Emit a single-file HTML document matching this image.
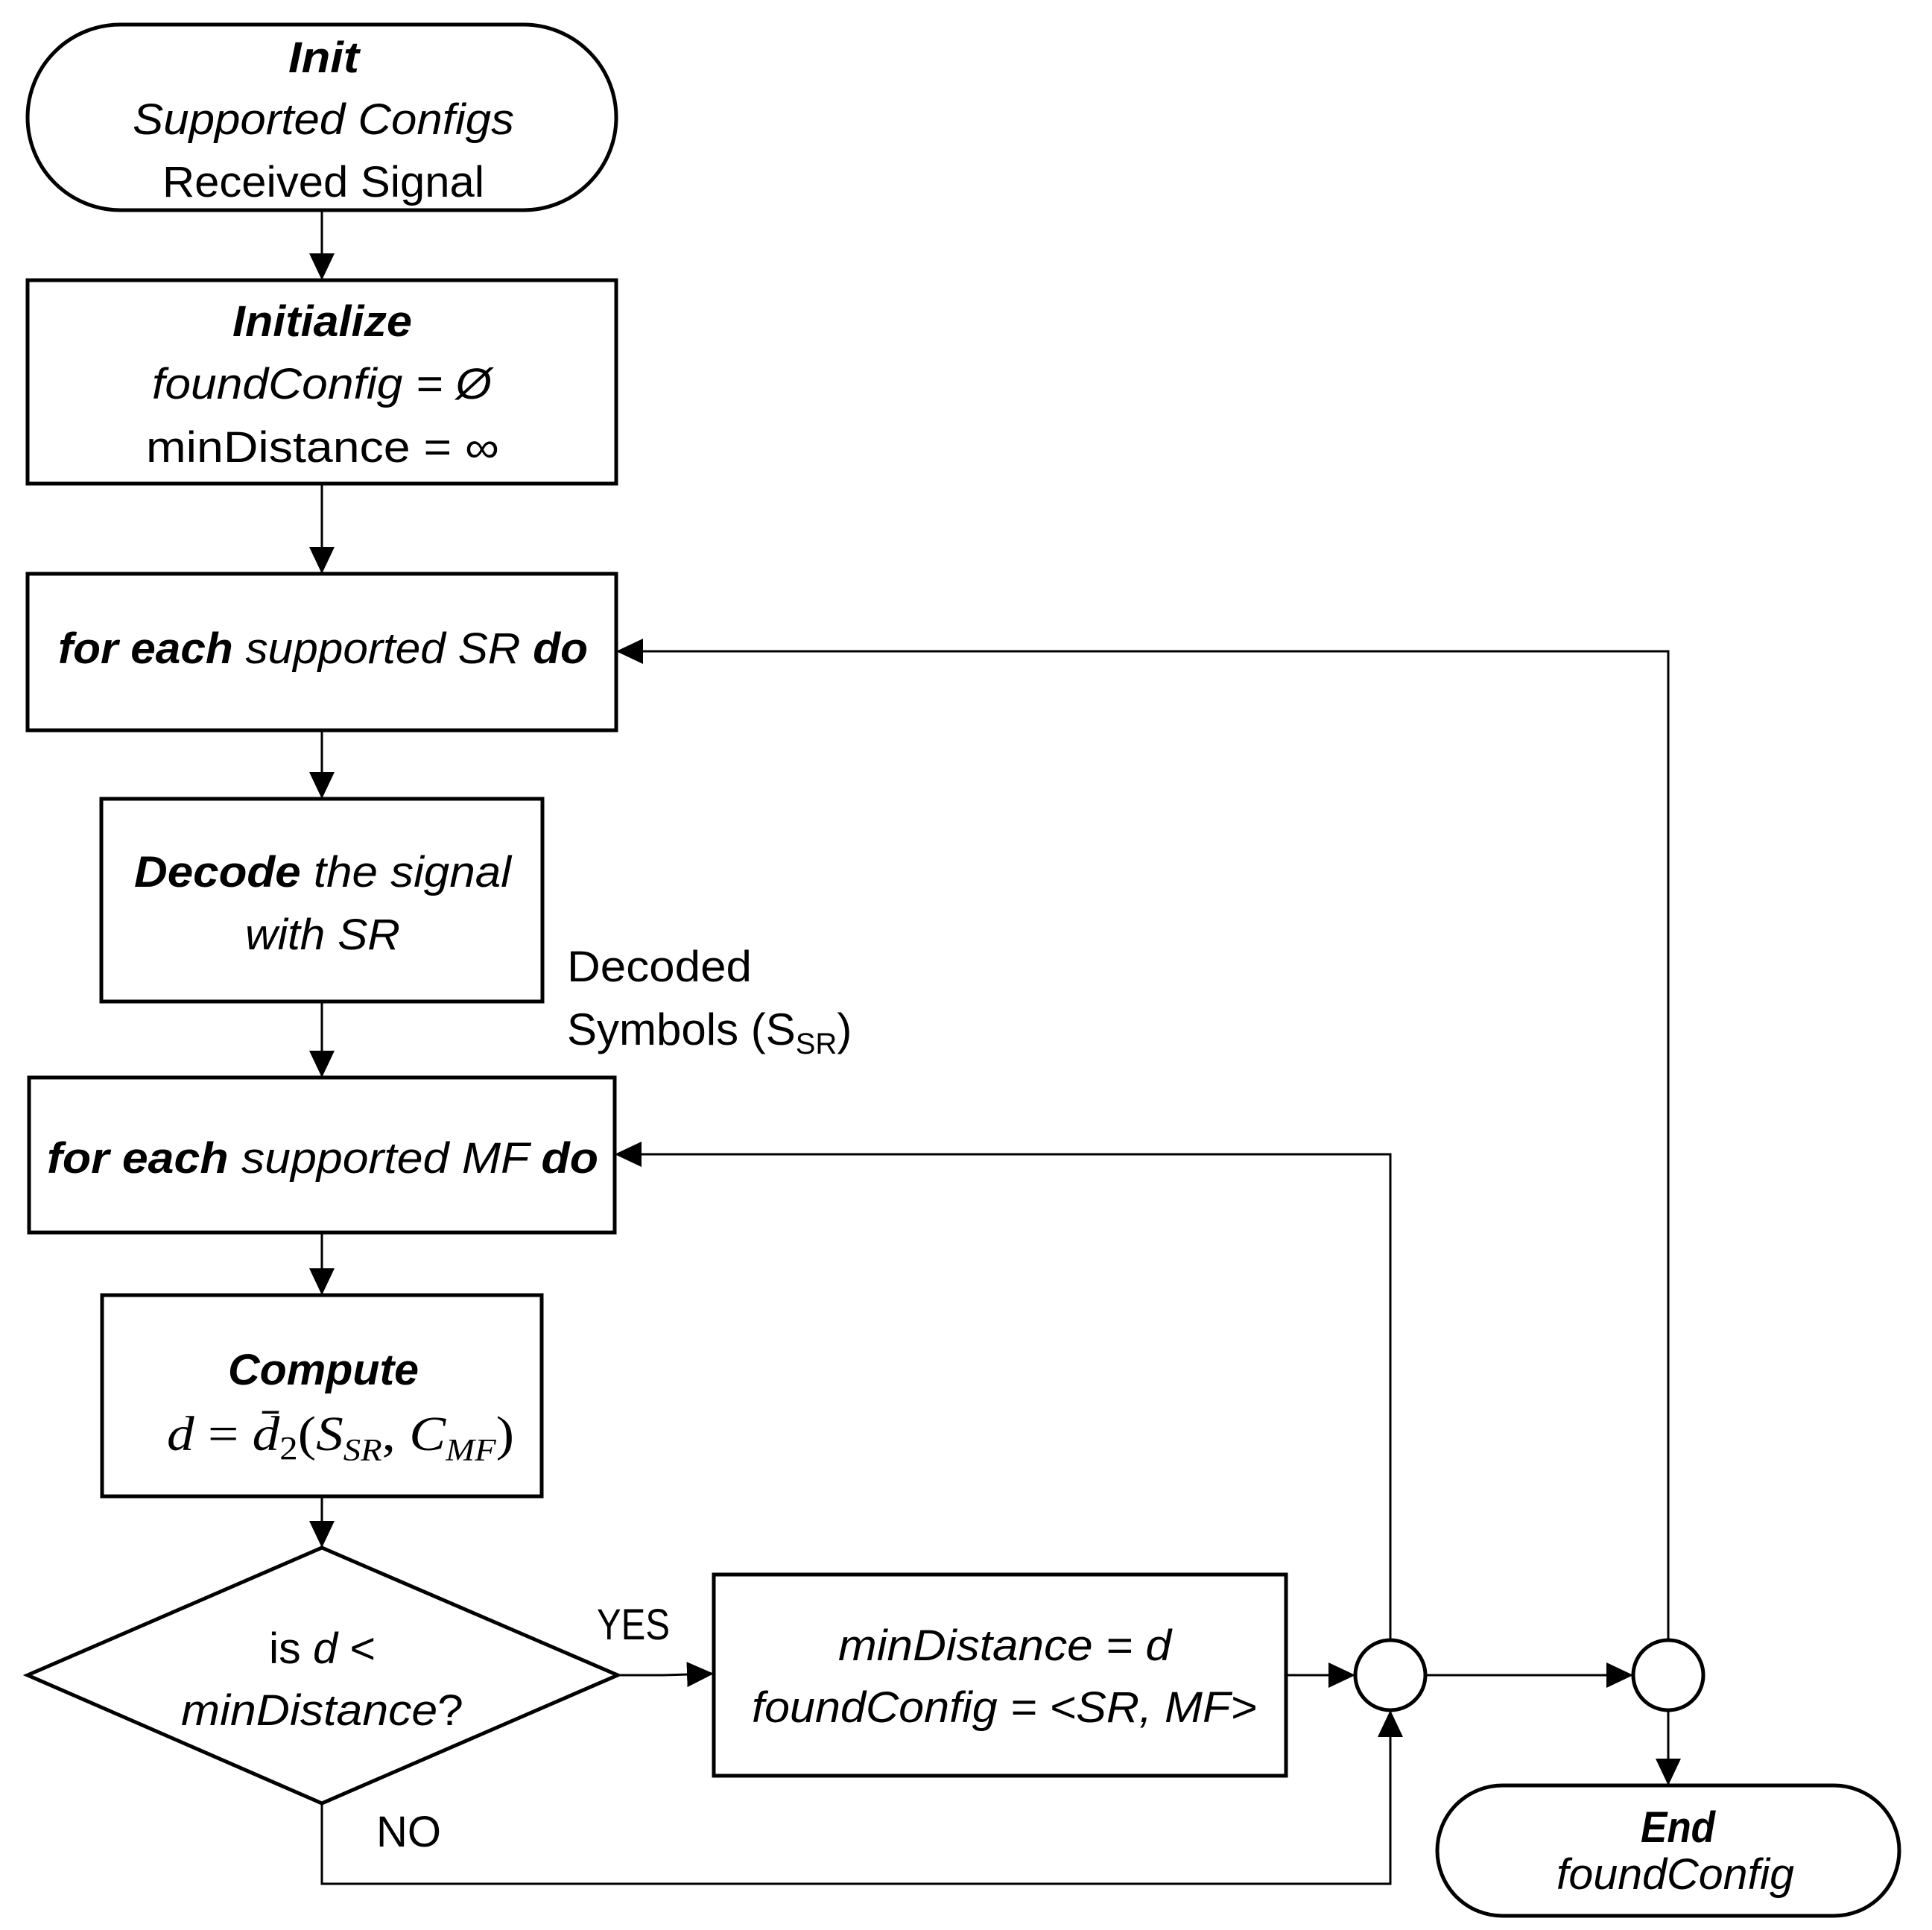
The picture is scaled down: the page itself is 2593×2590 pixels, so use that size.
<!DOCTYPE html>
<html><head><meta charset="utf-8"><style>html,body{margin:0;padding:0;background:#fff}svg{display:block}</style></head>
<body>
<svg width="2593" height="2590" viewBox="0 0 2593 2590" xmlns="http://www.w3.org/2000/svg" font-family="Liberation Sans, sans-serif" font-size="58">
<defs>
<marker id="a" markerWidth="36" markerHeight="34" refX="36" refY="17" orient="auto" markerUnits="userSpaceOnUse">
<path d="M0,0 L36,17 L0,34 Z" fill="#000"/></marker>
</defs>
<g fill="none" stroke="#000" stroke-width="5">
<rect x="37" y="33" width="790" height="249" rx="124.5"/>
<rect x="37" y="376" width="790" height="273"/>
<rect x="37" y="770" width="790" height="210"/>
<rect x="136" y="1072" width="592" height="272"/>
<rect x="39" y="1446" width="786" height="208"/>
<rect x="137" y="1738" width="590" height="270"/>
<polygon points="37,2248 432,2077 829,2248 432,2420"/>
<rect x="958" y="2113" width="768" height="270"/>
<circle cx="1866" cy="2248" r="47"/>
<circle cx="2239" cy="2248" r="47"/>
<rect x="1929" y="2396" width="620" height="175" rx="87.5"/>
</g>
<g fill="none" stroke="#000" stroke-width="3">
<line x1="432" y1="282" x2="432" y2="376" marker-end="url(#a)"/>
<line x1="432" y1="649" x2="432" y2="770" marker-end="url(#a)"/>
<line x1="432" y1="980" x2="432" y2="1072" marker-end="url(#a)"/>
<line x1="432" y1="1344" x2="432" y2="1446" marker-end="url(#a)"/>
<line x1="432" y1="1654" x2="432" y2="1738" marker-end="url(#a)"/>
<line x1="432" y1="2008" x2="432" y2="2077" marker-end="url(#a)"/>
<polyline points="829,2248 890,2248 958,2246" marker-end="url(#a)"/>
<line x1="1726" y1="2248" x2="1819" y2="2248" marker-end="url(#a)"/>
<line x1="1913" y1="2248" x2="2192" y2="2248" marker-end="url(#a)"/>
<polyline points="432,2420 432,2528 1866,2528 1866,2295" marker-end="url(#a)"/>
<polyline points="1866,2201 1866,1549 825,1549" marker-end="url(#a)"/>
<polyline points="2239,2201 2239,874 827,874" marker-end="url(#a)"/>
<line x1="2239" y1="2295" x2="2239" y2="2396" marker-end="url(#a)"/>
</g>
<g fill="#000" text-anchor="start">
<text x="387" y="97" font-weight="bold" font-style="italic" textLength="95" lengthAdjust="spacingAndGlyphs">Init</text>
<text x="178" y="180" font-style="italic" textLength="512" lengthAdjust="spacingAndGlyphs">Supported Configs</text>
<text x="218" y="264" textLength="432" lengthAdjust="spacingAndGlyphs">Received Signal</text>
<text x="312" y="451" font-weight="bold" font-style="italic" textLength="241" lengthAdjust="spacingAndGlyphs">Initialize</text>
<text x="204" y="535" font-style="italic" textLength="456" lengthAdjust="spacingAndGlyphs">foundConfig = Ø</text>
<text x="196" y="620" textLength="474" lengthAdjust="spacingAndGlyphs">minDistance = ∞</text>
<text x="78" y="890" font-style="italic" textLength="711" lengthAdjust="spacingAndGlyphs"><tspan font-weight="bold">for each</tspan> supported SR <tspan font-weight="bold">do</tspan></text>
<text x="180" y="1190" font-style="italic" textLength="506" lengthAdjust="spacingAndGlyphs"><tspan font-weight="bold">Decode</tspan> the signal</text>
<text x="329" y="1274" font-style="italic" textLength="208" lengthAdjust="spacingAndGlyphs">with SR</text>
<text x="761" y="1317" textLength="248" lengthAdjust="spacingAndGlyphs">Decoded</text>
<text x="761" y="1402" font-size="60">Symbols (S<tspan font-size="40" dy="12">SR</tspan><tspan dy="-12">)</tspan></text>
<text x="63" y="1574" font-style="italic" textLength="740" lengthAdjust="spacingAndGlyphs"><tspan font-weight="bold">for each</tspan> supported MF <tspan font-weight="bold">do</tspan></text>
<text x="306" y="1858" font-weight="bold" font-style="italic" textLength="256" lengthAdjust="spacingAndGlyphs">Compute</text>
<text x="224" y="1946" font-family="Liberation Serif, serif" font-size="66" textLength="466" lengthAdjust="spacingAndGlyphs"><tspan font-style="italic">d</tspan> =  <tspan font-style="italic">d̄</tspan><tspan font-size="44" dy="12">2</tspan><tspan dy="-12">(</tspan><tspan font-style="italic">S</tspan><tspan font-style="italic" font-size="42" dy="14">SR</tspan><tspan dy="-14">, </tspan><tspan font-style="italic">C</tspan><tspan font-style="italic" font-size="42" dy="14">MF</tspan><tspan dy="-14">)</tspan></text>
<text x="361" y="2232" textLength="143" lengthAdjust="spacingAndGlyphs">is <tspan font-style="italic">d</tspan> &lt;</text>
<text x="243" y="2315" textLength="379" lengthAdjust="spacingAndGlyphs"><tspan font-style="italic">minDistance</tspan>?</text>
<text x="801" y="2200" textLength="98" lengthAdjust="spacingAndGlyphs">YES</text>
<text x="505" y="2478" textLength="87" lengthAdjust="spacingAndGlyphs">NO</text>
<text x="1125" y="2228" font-style="italic" textLength="447" lengthAdjust="spacingAndGlyphs">minDistance = d</text>
<text x="1009" y="2311" font-style="italic" textLength="678" lengthAdjust="spacingAndGlyphs">foundConfig = &lt;SR, MF&gt;</text>
<text x="2202" y="2472" font-weight="bold" font-style="italic" textLength="100" lengthAdjust="spacingAndGlyphs">End</text>
<text x="2089" y="2535" font-style="italic" textLength="319" lengthAdjust="spacingAndGlyphs">foundConfig</text>
</g>
</svg>
</body></html>
